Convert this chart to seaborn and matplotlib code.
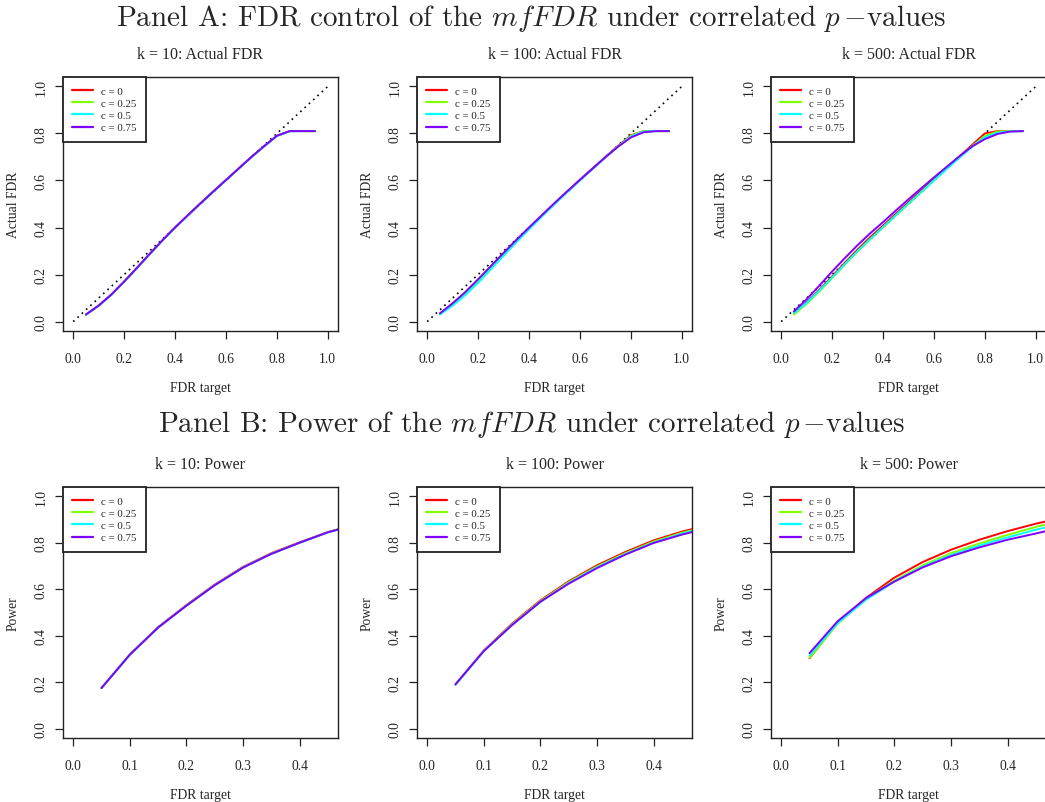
import numpy as np
import pandas as pd
import seaborn as sns
import matplotlib.pyplot as plt
from matplotlib.lines import Line2D

# FDR target grids
target_fdr = [0.05, 0.10, 0.15, 0.20, 0.25, 0.30, 0.35, 0.40, 0.45, 0.50,
              0.55, 0.60, 0.65, 0.70, 0.75, 0.80, 0.85, 0.90, 0.95]
target_pow = [0.05, 0.10, 0.15, 0.20, 0.25, 0.30, 0.35, 0.40, 0.45, 0.50]

c_labels = ["c = 0", "c = 0.25", "c = 0.5", "c = 0.75"]
c_colors = ["#FF0000", "#80FF00", "#00FFFF", "#8000FF"]  # rainbow(4)

# Panel A: actual FDR, one list per correlation level
fdr_k10_c0 = [0.030, 0.068, 0.115, 0.170, 0.228, 0.287, 0.345, 0.400, 0.452, 0.503,
              0.553, 0.602, 0.651, 0.700, 0.746, 0.790, 0.810, 0.810, 0.810]
fdr_k10_c25 = [0.030, 0.067, 0.114, 0.169, 0.227, 0.286, 0.344, 0.399, 0.451, 0.502,
               0.552, 0.601, 0.650, 0.699, 0.745, 0.789, 0.810, 0.810, 0.810]
fdr_k10_c50 = [0.029, 0.067, 0.114, 0.169, 0.227, 0.286, 0.344, 0.399, 0.451, 0.502,
               0.552, 0.601, 0.650, 0.699, 0.745, 0.789, 0.809, 0.810, 0.810]
fdr_k10_c75 = [0.030, 0.068, 0.115, 0.170, 0.228, 0.287, 0.345, 0.400, 0.452, 0.503,
               0.553, 0.602, 0.651, 0.700, 0.746, 0.790, 0.810, 0.810, 0.810]

fdr_k100_c0 = [0.033, 0.075, 0.122, 0.176, 0.233, 0.290, 0.345, 0.398, 0.450, 0.502,
               0.553, 0.603, 0.652, 0.700, 0.748, 0.792, 0.810, 0.810, 0.810]
fdr_k100_c25 = [0.032, 0.072, 0.118, 0.171, 0.228, 0.285, 0.341, 0.395, 0.448, 0.500,
                0.551, 0.601, 0.650, 0.699, 0.746, 0.790, 0.810, 0.810, 0.810]
fdr_k100_c50 = [0.030, 0.068, 0.113, 0.165, 0.222, 0.280, 0.337, 0.392, 0.446, 0.499,
                0.550, 0.600, 0.649, 0.698, 0.744, 0.787, 0.808, 0.810, 0.810]
fdr_k100_c75 = [0.035, 0.078, 0.126, 0.180, 0.236, 0.292, 0.347, 0.400, 0.452, 0.504,
                0.554, 0.603, 0.651, 0.699, 0.744, 0.783, 0.805, 0.810, 0.810]

fdr_k500_c0 = [0.033, 0.082, 0.135, 0.192, 0.250, 0.306, 0.359, 0.408, 0.458, 0.508,
               0.557, 0.606, 0.654, 0.702, 0.751, 0.800, 0.810, 0.810, 0.810]
fdr_k500_c25 = [0.030, 0.076, 0.128, 0.185, 0.242, 0.298, 0.350, 0.400, 0.451, 0.501,
                0.551, 0.601, 0.650, 0.699, 0.746, 0.790, 0.808, 0.810, 0.810]
fdr_k500_c50 = [0.036, 0.080, 0.132, 0.188, 0.245, 0.300, 0.352, 0.402, 0.452, 0.502,
                0.551, 0.600, 0.649, 0.697, 0.743, 0.784, 0.803, 0.809, 0.810]
fdr_k500_c75 = [0.043, 0.095, 0.153, 0.213, 0.270, 0.325, 0.376, 0.423, 0.472, 0.520,
                0.567, 0.613, 0.658, 0.703, 0.745, 0.776, 0.798, 0.808, 0.810]

# Panel B: power
pow_k10_c0 = [0.175, 0.319, 0.437, 0.532, 0.620, 0.696, 0.755, 0.802, 0.846, 0.879]
pow_k10_c25 = [0.175, 0.318, 0.435, 0.530, 0.618, 0.694, 0.753, 0.800, 0.845, 0.878]
pow_k10_c50 = [0.175, 0.318, 0.435, 0.529, 0.617, 0.693, 0.752, 0.800, 0.845, 0.878]
pow_k10_c75 = [0.175, 0.318, 0.435, 0.529, 0.617, 0.693, 0.752, 0.800, 0.845, 0.878]

pow_k100_c0 = [0.190, 0.336, 0.452, 0.552, 0.634, 0.703, 0.760, 0.810, 0.848, 0.878]
pow_k100_c25 = [0.190, 0.335, 0.449, 0.549, 0.630, 0.698, 0.755, 0.805, 0.843, 0.873]
pow_k100_c50 = [0.189, 0.333, 0.446, 0.545, 0.626, 0.694, 0.751, 0.800, 0.839, 0.869]
pow_k100_c75 = [0.191, 0.334, 0.446, 0.546, 0.624, 0.691, 0.749, 0.799, 0.835, 0.865]

pow_k500_c0 = [0.303, 0.457, 0.563, 0.650, 0.717, 0.770, 0.813, 0.850, 0.882, 0.910]
pow_k500_c25 = [0.305, 0.452, 0.560, 0.638, 0.703, 0.755, 0.797, 0.834, 0.868, 0.898]
pow_k500_c50 = [0.315, 0.455, 0.555, 0.633, 0.697, 0.747, 0.788, 0.823, 0.856, 0.885]
pow_k500_c75 = [0.325, 0.463, 0.562, 0.633, 0.694, 0.742, 0.780, 0.813, 0.840, 0.868]

panels_a = [("k = 10: Actual FDR", [fdr_k10_c0, fdr_k10_c25, fdr_k10_c50, fdr_k10_c75]),
            ("k = 100: Actual FDR", [fdr_k100_c0, fdr_k100_c25, fdr_k100_c50, fdr_k100_c75]),
            ("k = 500: Actual FDR", [fdr_k500_c0, fdr_k500_c25, fdr_k500_c50, fdr_k500_c75])]
panels_b = [("k = 10: Power", [pow_k10_c0, pow_k10_c25, pow_k10_c50, pow_k10_c75]),
            ("k = 100: Power", [pow_k100_c0, pow_k100_c25, pow_k100_c50, pow_k100_c75]),
            ("k = 500: Power", [pow_k500_c0, pow_k500_c25, pow_k500_c50, pow_k500_c75])]

sns.set_theme(style="ticks")
plt.rcParams['font.family'] = ['Liberation Serif', 'DejaVu Serif']
plt.rcParams['mathtext.fontset'] = 'cm'
plt.rcParams['axes.edgecolor'] = '#222222'
plt.rcParams['axes.linewidth'] = 1.0

W, H = 1045, 803
fig = plt.figure(figsize=(W / 100, H / 100), dpi=100)


def make_axes(left, top, width, height):
    return fig.add_axes([left / W, 1 - (top + height) / H, width / W, height / H])


def to_long(x, series):
    frames = []
    for lab, vals in zip(c_labels, series):
        frames.append(pd.DataFrame({"target": x, "value": vals, "c": lab}))
    return pd.concat(frames, ignore_index=True)


def style_axes(ax, title, ylabel, xticks):
    ax.set_title(title, fontsize=11.5, pad=14)
    ax.set_xlabel("FDR target", fontsize=9.8, labelpad=12)
    ax.set_ylabel(ylabel, fontsize=9.8, labelpad=10.5)
    ax.set_xticks(xticks)
    ax.set_yticks([0.0, 0.2, 0.4, 0.6, 0.8, 1.0])
    ax.set_xticklabels([f"{t:.1f}" for t in xticks])
    ax.set_yticklabels([f"{t:.1f}" for t in [0.0, 0.2, 0.4, 0.6, 0.8, 1.0]],
                       rotation=90, va="center")
    ax.tick_params(axis="both", direction="out", length=6, width=0.9,
                   labelsize=9.8, color="#222222")
    ax.tick_params(axis="x", pad=9)
    ax.tick_params(axis="y", pad=5)
    handles = [Line2D([], [], color=col, lw=1.6) for col in c_colors]
    leg = ax.legend(handles, c_labels, loc="upper left", borderaxespad=0,
                    fontsize=7.8, frameon=True, fancybox=False, framealpha=1,
                    handlelength=1.9, handletextpad=0.8, labelspacing=0.24,
                    borderpad=0.85)
    leg.get_frame().set_edgecolor("#222222")
    leg.get_frame().set_linewidth(1.3)


lefts = [63, 417, 771]

for i, (title, series) in enumerate(panels_a):
    ax = make_axes(lefts[i], 78, 275, 254)
    df = to_long(target_fdr, series)
    ax.plot([0, 1], [0, 1], color="black", lw=1.2, linestyle=(0, (1, 2.5)))
    sns.lineplot(data=df, x="target", y="value", hue="c", hue_order=c_labels,
                 palette=c_colors, ax=ax, legend=False, lw=1.4, sort=False)
    ax.set_xlim(-0.04, 1.04)
    ax.set_ylim(-0.04, 1.04)
    style_axes(ax, title, "Actual FDR", [0.0, 0.2, 0.4, 0.6, 0.8, 1.0])

for i, (title, series) in enumerate(panels_b):
    ax = make_axes(lefts[i], 488, 275, 251)
    df = to_long(target_pow, series)
    sns.lineplot(data=df, x="target", y="value", hue="c", hue_order=c_labels,
                 palette=c_colors, ax=ax, legend=False, lw=1.4, sort=False)
    ax.set_xlim(-0.018, 0.468)
    ax.set_ylim(-0.04, 1.04)
    style_axes(ax, title, "Power", [0.0, 0.1, 0.2, 0.3, 0.4])

# Panel headings: Computer Modern text with math italic parts
fig.text(531.5 / W, 1 - 18 / H,
         r"Panel A: FDR control of the $mfFDR$ under correlated $p\,{-}$values",
         ha="center", va="center", fontsize=21, family="cmr10")
fig.text(531.5 / W, 1 - 425 / H,
         r"Panel B: Power of the $mfFDR$ under correlated $p\,{-}$values",
         ha="center", va="center", fontsize=21, family="cmr10")

fig.savefig("out.png", dpi=100)
